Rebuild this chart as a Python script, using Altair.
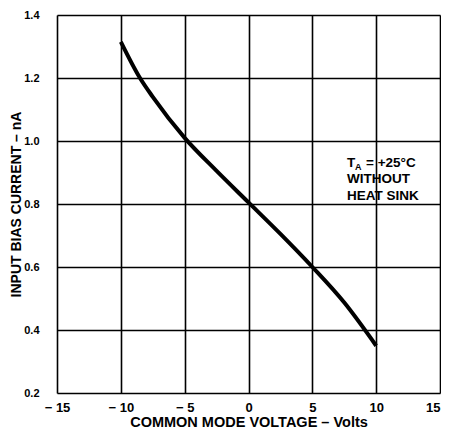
import altair as alt
import pandas as pd

# Curve data
voltage = [-10, -8.5, -7.5, -5, -2.5, 0, 2.5, 5, 7.5, 10]
current = [1.315, 1.20, 1.14, 1.01, 0.905, 0.805, 0.705, 0.60, 0.487, 0.35]

x_ticks = [-15, -10, -5, 0, 5, 10, 15]
y_ticks = [0.2, 0.4, 0.6, 0.8, 1.0, 1.2, 1.4]

note_lines = ["WITHOUT", "HEAT SINK"]

df = pd.DataFrame({"v": voltage, "i": current})

FONT = "Liberation Sans"

x_scale = alt.Scale(domain=[-15, 15], nice=False, zero=False)
y_scale = alt.Scale(domain=[0.2, 1.4], nice=False, zero=False)

x_axis = alt.Axis(
    values=x_ticks,
    title="COMMON MODE VOLTAGE – Volts",
    labelExpr="datum.value < 0 ? '− ' + abs(datum.value) : '' + datum.value",
    labelAlign={"condition": {"test": "datum.value == 15", "value": "right"}, "value": "center"},
    grid=True, gridColor="black", gridWidth=1.6, gridOpacity=1,
    ticks=False, domain=False,
    labelFont=FONT, labelFontWeight="bold", labelFontSize=13, labelColor="black",
    labelPadding=8, labelFlush=False,
    titleFont=FONT, titleFontWeight="bold", titleFontSize=14.5, titleColor="black",
    titlePadding=1,
)
y_axis = alt.Axis(
    values=y_ticks,
    title="INPUT BIAS CURRENT – nA",
    format=".1f",
    grid=True, gridColor="black", gridWidth=1.6, gridOpacity=1,
    ticks=False, domain=False,
    labelFont=FONT, labelFontWeight="bold", labelFontSize=11, labelColor="black",
    labelPadding=18, labelFlush=False,
    titleFont=FONT, titleFontWeight="bold", titleFontSize=14, titleColor="black",
    titlePadding=0,
)

curve = alt.Chart(df).mark_line(color="black", strokeWidth=4, interpolate="monotone").encode(
    x=alt.X("v:Q", scale=x_scale, axis=x_axis),
    y=alt.Y("i:Q", scale=y_scale, axis=y_axis),
)

# Annotation: T_A = +25°C
ann_df = pd.DataFrame({"x": [7.72], "y": [0.930]})
t_main = alt.Chart(ann_df).mark_text(
    text="T", align="left", baseline="middle", font=FONT, fontWeight="bold", fontSize=13.5, color="black"
).encode(x=alt.X("x:Q", scale=x_scale), y=alt.Y("y:Q", scale=y_scale))
t_sub = alt.Chart(ann_df).mark_text(
    text="A", align="left", baseline="middle", font=FONT, fontWeight="bold", fontSize=9, color="black",
    dx=8, dy=4,
).encode(x=alt.X("x:Q", scale=x_scale), y=alt.Y("y:Q", scale=y_scale))
t_rest = alt.Chart(ann_df).mark_text(
    text="=  +25°C", align="left", baseline="middle", font=FONT, fontWeight="bold", fontSize=13.5, color="black",
    dx=19,
).encode(x=alt.X("x:Q", scale=x_scale), y=alt.Y("y:Q", scale=y_scale))

note_df = pd.DataFrame({"x": [7.72, 7.72], "y": [0.879, 0.825], "t": note_lines})
notes = alt.Chart(note_df).mark_text(
    align="left", baseline="middle", font=FONT, fontWeight="bold", fontSize=13.5, color="black"
).encode(x=alt.X("x:Q", scale=x_scale), y=alt.Y("y:Q", scale=y_scale), text="t:N")

chart = (curve + t_main + t_sub + t_rest + notes).properties(
    width=383, height=378,
    autosize=alt.AutoSizeParams(type="none"),
    padding={"left": 49, "top": 7, "right": 1, "bottom": 36},
).configure_view(stroke="black", strokeWidth=3).configure(background="white")

chart.save("out.html", embed_options={"renderer": "svg", "actions": False})
